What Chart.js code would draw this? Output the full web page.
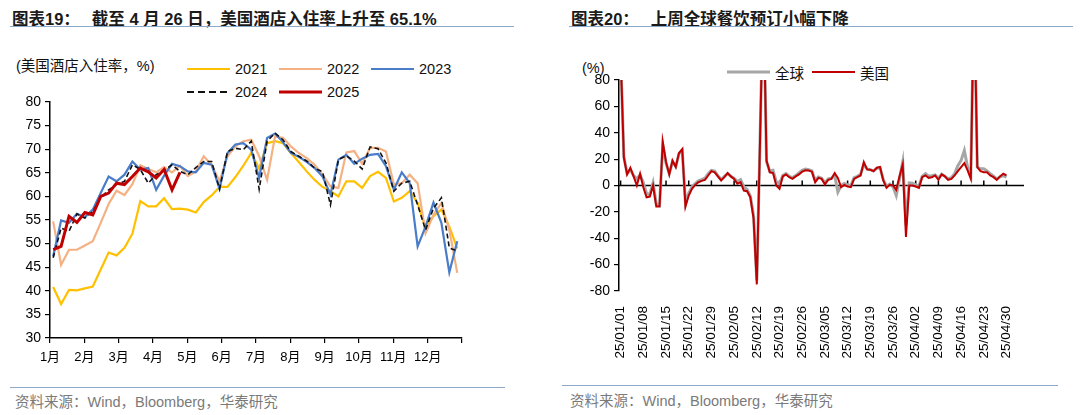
<!DOCTYPE html>
<html>
<head>
<meta charset="utf-8">
<script src="https://cdn.jsdelivr.net/npm/chart.js@4.4.1/dist/chart.umd.min.js"></script>
<style>
  body { margin:0; width:1080px; height:415px; background:#fff; position:relative; overflow:hidden;
         font-family:"Liberation Sans", Arial, "Noto Sans CJK SC", sans-serif; }
  .title { position:absolute; top:6px; font-size:16.5px; font-weight:bold; color:#1a1a1a; white-space:nowrap; }
  .title span { margin-left:12px; }
  .rule { position:absolute; height:0; border-top:1px solid #8EA8C8; }
  .src { position:absolute; font-size:14.5px; color:#7a7a7a; white-space:nowrap; }
  .box { position:absolute; }
  .unit { position:absolute; font-size:14.5px; color:#111; white-space:nowrap; }
  .legend { position:absolute; display:grid; }
  .legend .item { display:flex; align-items:center; gap:5px; font-size:14.5px; color:#111; white-space:nowrap; }
  .legend svg { display:block; }
</style>
</head>
<body>

<div class="title" style="left:12px">图表19：<span>截至 4 月 26 日，美国酒店入住率上升至 65.1%</span></div>
<div class="rule" style="left:10px; top:26px; width:504px"></div>
<div class="unit" style="left:16px; top:54px">(美国酒店入住率，%)</div>
<div class="legend" id="legL" style="left:187px; top:57px; grid-template-columns:92px 92px 92px; grid-auto-rows:23px"></div>
<div class="box" style="left:0; top:95px; width:480px; height:280px"><canvas id="occChart"></canvas></div>
<div class="rule" style="left:10px; top:387px; width:495px"></div>
<div class="src" style="left:15px; top:390px">资料来源：Wind，Bloomberg，华泰研究</div>

<div class="title" style="left:571px">图表20：<span>上周全球餐饮预订小幅下降</span></div>
<div class="rule" style="left:569px; top:26px; width:504px"></div>
<div class="unit" style="left:582px; top:60px">(%)</div>
<div class="legend" id="legR" style="left:727px; top:62px; grid-template-columns:85px 85px; grid-auto-rows:20px"></div>
<div class="box" style="left:560px; top:60px; width:520px; height:310px"><canvas id="dinChart"></canvas></div>
<div class="rule" style="left:562px; top:385px; width:496px"></div>
<div class="src" style="left:570px; top:389px">资料来源：Wind，Bloomberg，华泰研究</div>

<script>
"use strict";

// ---- left: weekly US hotel occupancy (%), week 1..52 ----
const MONTHS = ["1月","2月","3月","4月","5月","6月","7月","8月","9月","10月","11月","12月"];
const WEEKS = 52;

const OCC_2021 = [40.8,37.2,40.2,40.1,40.5,40.9,44.5,48.1,47.5,49.1,52.1,59.0,57.9,57.9,59.6,57.3,57.4,57.2,56.6,58.8,
                  60.2,62.0,62.0,64.1,66.5,69.2,65.9,71.3,71.7,71.3,69.2,67.3,65.3,63.5,62.0,61.1,60.0,63.2,63.2,61.8,
                  64.3,65.2,63.9,58.9,59.7,61.1,58.6,53.3,55.8,57.2,53.6,49.0];
const OCC_2022 = [54.7,45.5,48.7,48.7,49.6,50.5,54.4,58.4,61.2,60.3,62.6,66.6,65.8,65.1,66.2,65.1,66.5,64.3,65.3,68.5,
                  66.7,63.2,68.5,70.6,71.7,72.0,68.5,63.5,72.7,72.4,70.6,69.2,68.1,66.7,64.6,62.1,61.8,69.3,69.6,66.9,
                  70.3,70.3,69.5,62.5,62.8,64.6,62.8,52.2,56.1,58.6,52.9,43.8];
const OCC_2023 = [47.3,54.9,54.4,56.3,55.6,57.2,60.7,64.2,63.2,64.6,67.4,65.7,66.0,61.4,64.4,66.9,66.4,65.3,65.1,67.1,
                  66.7,61.6,69.2,71.0,71.3,69.9,63.9,72.4,73.3,71.5,69.2,68.4,67.3,66.0,64.2,60.4,67.8,68.8,66.9,68.0,
                  68.8,69.0,66.4,61.4,65.1,62.8,49.4,53.6,58.7,54.4,43.9,50.5];
const OCC_2024 = [47.0,53.3,52.6,56.3,55.4,56.8,59.7,61.4,62.5,63.2,66.7,65.7,62.8,64.6,65.5,66.7,65.3,64.6,66.1,67.4,
                  67.4,61.6,69.5,70.2,69.9,71.7,61.5,71.7,73.4,72.0,69.5,68.5,67.5,66.0,65.2,58.2,67.8,68.6,67.5,65.8,
                  70.5,70.1,67.1,61.1,62.8,63.2,58.2,52.9,57.5,59.7,49.1,48.4];
const OCC_2025 = [48.7,49.4,55.8,54.5,56.6,56.1,60.0,60.7,62.8,62.5,64.2,66.0,65.2,63.9,65.7,61.4,65.1];

const LEFT_SERIES = [
  { label:"2021", data:OCC_2021, color:"#FFC000", width:2.2 },
  { label:"2022", data:OCC_2022, color:"#F4B183", width:2.2 },
  { label:"2023", data:OCC_2023, color:"#4A7DC9", width:2.2 },
  { label:"2024", data:OCC_2024, color:"#111111", width:1.6, dash:[5,3] },
  { label:"2025", data:OCC_2025, color:"#C00000", width:3 },
];

// ---- right: daily YoY change of seated diners (%), 2025-01-01 .. 2025-04-30 ----
const DATE_LABELS = ["25/01/01","25/01/08","25/01/15","25/01/22","25/01/29","25/02/05","25/02/12","25/02/19","25/02/26",
                     "25/03/05","25/03/12","25/03/19","25/03/26","25/04/02","25/04/09","25/04/16","25/04/23","25/04/30"];

const DINE_US = [100,21,8.4,13.5,6.9,0,8.9,-1.3,-8.9,-8.4,0,-16,-16,33,17.8,8.4,19,14,24.6,27.4,
                 -16,-7.6,-2.5,0.5,2.5,3.5,4.3,7.6,10.9,10,6.9,3.8,6.3,9.4,6.9,5,1.3,2.5,-3.8,-4.3,
                 -9,-25,-75,35,150,19,10,9.4,0,-2.5,6.9,8.4,6.3,5,6.9,8.4,10.5,11.5,11.4,10.5,
                 2.5,5.8,5,0.8,4.3,5,9.4,5.8,-1.3,0.5,-0.8,-1.3,5,6.3,7.6,17.8,12.2,11.9,10.9,13.5,
                 14,3.8,-1.8,0.5,0,-3.3,6.9,16,-39,0,0,-0.8,-1.8,6.3,7.6,5.8,6.3,7.6,4.3,8.4,
                 6.9,4.3,5,7.6,10.9,14,17,11.4,5,150,14,10.9,10,10,7.6,6.3,4.3,6.9,8.9,7.6];
const DINE_GLOBAL = [100,22,9,12,7.5,5,8,2,-6,-7,2,-14,-15,31,17,9,18,14.5,24,27,
                     -13,-6,-1,1.5,3.5,4.5,5.5,9,11.5,11,7.5,4.5,7,9,7,5.5,3,4.5,-1,-3,
                     -8,-23,-72,35,150,18,11,11.5,3,1,7.5,9,7,6,7.5,9.5,11.5,12.5,12,11,
                     4,6.5,5.5,2,5,5.5,8,-5,0,1.5,0.5,0,6,7,8.5,16,12.5,12,11,13,
                     13.5,4.5,-0.5,1,-1,-7.6,5,17.8,-30,2,1.8,0.5,-0.5,7,9,7,7.5,8,5.5,8.5,
                     7,5,6,9,15,19,26.6,14,8,150,14,12.7,12.7,11,9,7,5,6.5,7.5,6.3];

const RIGHT_SERIES = [
  { label:"全球", data:DINE_GLOBAL, color:"#A6A6A6", width:3 },
  { label:"美国", data:DINE_US,     color:"#C00000", width:2 },
];

Chart.defaults.font.family = '"Liberation Sans", Arial, "Noto Sans CJK SC", sans-serif';
Chart.defaults.color = "#000";
Chart.defaults.animation = false;

function legendHtml(series, w) {
  return series.map(s => {
    const dash = s.dash ? ` stroke-dasharray="7 4"` : "";
    return `<div class="item"><svg width="${w}" height="8"><line x1="0" y1="4" x2="${w}" y2="4" stroke="${s.color}"` +
           ` stroke-width="${Math.max(s.width, 2.2)}"${dash}/></svg><span>${s.label}</span></div>`;
  }).join("");
}
document.getElementById("legL").innerHTML = legendHtml(LEFT_SERIES, 43);
document.getElementById("legR").innerHTML = legendHtml(RIGHT_SERIES, 43);

const axisGrid = { drawOnChartArea:false, drawTicks:true, tickLength:5, color:"#000", lineWidth:1.2 };
const axisBorder = { color:"#000", width:1.5 };
// keep the layout from reserving room for the end labels
const noPad = s => { s.paddingTop = 0; s.paddingBottom = 0; s.paddingLeft = 0; s.paddingRight = 0; };

// Left chart
new Chart(document.getElementById("occChart"), {
  type: "line",
  data: {
    datasets: LEFT_SERIES.map((s, k) => ({
      label: s.label,
      data: s.data.map((v, i) => ({ x: (i + 0.4) * 12 / WEEKS, y: v })),
      borderColor: s.color, borderWidth: s.width, borderDash: s.dash || [],
      pointRadius: 0, tension: 0, fill: false, order: LEFT_SERIES.length - k,
    }))
  },
  options: {
    responsive: true, maintainAspectRatio: false,
    layout: { padding: { top: 7, right: 18, left: 0, bottom: 0 } },
    plugins: { legend: { display:false }, tooltip: { enabled:false } },
    scales: {
      x: {
        type: "linear", min: 0, max: 12,
        ticks: { stepSize: 1, autoSkip: false, maxRotation: 0, padding: 7, font: { size: 13 },
                 callback: v => MONTHS[v] || "" },
        grid: axisGrid, border: axisBorder,
        afterFit: s => { s.height = 37; noPad(s); }
      },
      y: {
        min: 30, max: 80,
        ticks: { stepSize: 5, padding: 4, font: { size: 14 } },
        grid: axisGrid, border: axisBorder,
        afterFit: s => { s.width = 50; noPad(s); }
      }
    }
  }
});

// zero line with upward ticks for the right chart
const zeroAxis = {
  id: "zeroAxis",
  beforeDatasetsDraw(chart) {
    const { ctx, chartArea, scales: { x, y } } = chart;
    const y0 = y.getPixelForValue(0);
    ctx.save();
    ctx.strokeStyle = "#000"; ctx.lineWidth = 1.5;
    ctx.beginPath();
    ctx.moveTo(chartArea.left, y0); ctx.lineTo(chartArea.right, y0);
    x.ticks.forEach(t => { const px = x.getPixelForValue(t.value); ctx.moveTo(px, y0); ctx.lineTo(px, y0 - 5); });
    ctx.stroke();
    ctx.restore();
  }
};

// Right chart
new Chart(document.getElementById("dinChart"), {
  type: "line",
  data: {
    datasets: RIGHT_SERIES.map((s, k) => ({
      label: s.label,
      data: s.data.map((v, d) => ({ x: d, y: v })),
      borderColor: s.color, borderWidth: s.width,
      pointRadius: 0, tension: 0, fill: false, order: RIGHT_SERIES.length - k,
    }))
  },
  options: {
    responsive: true, maintainAspectRatio: false,
    layout: { padding: { top: 20, right: 56, left: 0, bottom: 0 } },
    plugins: { legend: { display:false }, tooltip: { enabled:false } },
    scales: {
      x: {
        type: "linear", min: -0.5, max: 124.4,
        afterBuildTicks: s => { s.ticks = DATE_LABELS.map((_, k) => ({ value: k * 7 })); },
        ticks: { autoSkip: false, minRotation: 90, maxRotation: 90, padding: 7, font: { size: 13.5 },
                 callback: v => DATE_LABELS[v / 7] || "" },
        grid: { display: false }, border: { display: false },
        afterFit: s => { s.height = 79; noPad(s); }
      },
      y: {
        min: -80, max: 80,
        ticks: { stepSize: 20, padding: 4, font: { size: 14 } },
        grid: axisGrid, border: axisBorder,
        afterFit: s => { s.width = 59; noPad(s); }
      }
    }
  },
  plugins: [zeroAxis]
});
</script>
</body>
</html>
